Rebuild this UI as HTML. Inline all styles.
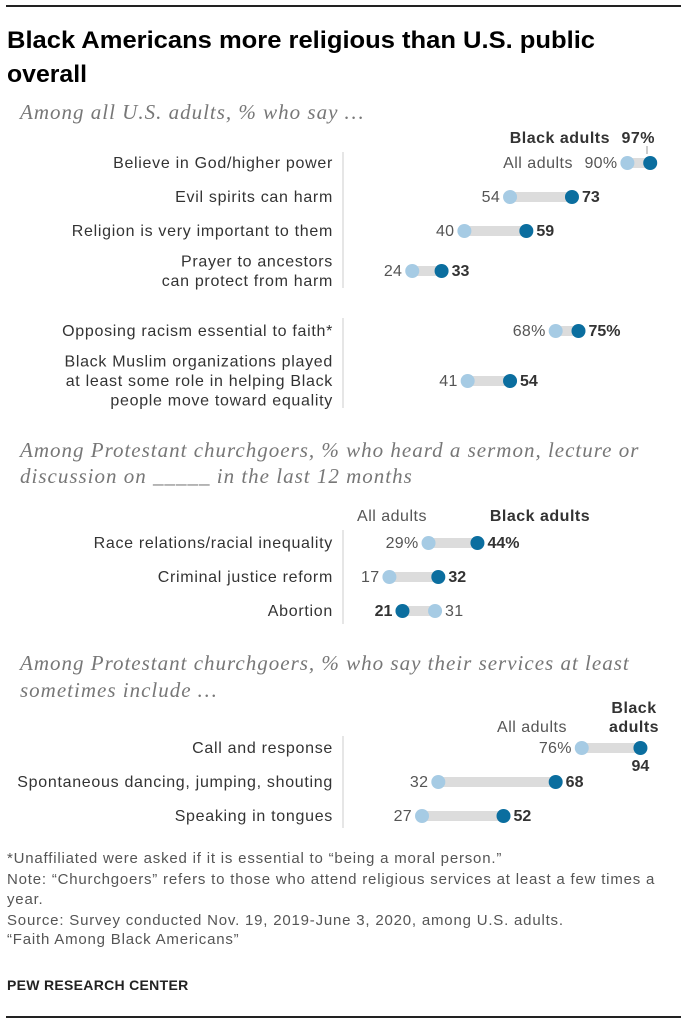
<!DOCTYPE html>
<html><head><meta charset="utf-8"><style>
body{margin:0;background:#fff;width:688px;height:1024px;overflow:hidden}
svg text{font-family:"Liberation Sans",sans-serif}
.sub{font-family:"Liberation Serif",serif;font-style:italic;font-size:21px;fill:#777;letter-spacing:1px}
.foot{font-size:15px;fill:#555;letter-spacing:0.8px}
.lg{font-size:16px;letter-spacing:0.5px}
</style></head><body>
<svg id="c" width="688" height="1024">
<line x1="6" y1="6" x2="681" y2="6" stroke="#222" stroke-width="2"/>
<text x="7" y="48" font-size="24" font-weight="bold" fill="#000" textLength="588" lengthAdjust="spacingAndGlyphs">Black Americans more religious than U.S. public</text>
<text x="7" y="82" font-size="24" font-weight="bold" fill="#000" textLength="80" lengthAdjust="spacingAndGlyphs">overall</text>
<text class="sub" x="20" y="119">Among all U.S. adults, % who say …</text>
<text class="sub" x="20" y="457">Among Protestant churchgoers, % who heard a sermon, lecture or</text>
<text class="sub" x="20" y="483">discussion on _____ in the last 12 months</text>
<text class="sub" x="20" y="670">Among Protestant churchgoers, % who say their services at least</text>
<text class="sub" x="20" y="697">sometimes include …</text>
<g stroke="#ccc" stroke-width="1">
<line x1="343" y1="152" x2="343" y2="288"/>
<line x1="343" y1="318" x2="343" y2="408"/>
<line x1="343" y1="530" x2="343" y2="624"/>
<line x1="343" y1="736" x2="343" y2="828"/>
</g>
<text class="lg" x="610" y="143" font-weight="bold" fill="#333" text-anchor="end">Black adults</text>
<text class="lg" x="655" y="143" font-weight="bold" fill="#333" text-anchor="end">97%</text>
<line x1="647" y1="146" x2="647" y2="154" stroke="#999"/>
<text class="lg" x="573" y="168" fill="#555" text-anchor="end">All adults</text>
<text class="lg" x="392" y="521" fill="#555" text-anchor="middle">All adults</text>
<text class="lg" x="540" y="521" font-weight="bold" fill="#333" text-anchor="middle">Black adults</text>
<text class="lg" x="532" y="732" fill="#555" text-anchor="middle">All adults</text>
<text class="lg" x="634" y="713" font-weight="bold" fill="#333" text-anchor="middle">Black</text>
<text class="lg" x="634" y="732" font-weight="bold" fill="#333" text-anchor="middle">adults</text>
<g id="rows"></g>
<text class="foot" x="7" y="863">*Unaffiliated were asked if it is essential to “being a moral person.”</text>
<text class="foot" x="7" y="884">Note: “Churchgoers” refers to those who attend religious services at least a few times a</text>
<text class="foot" x="7" y="904">year.</text>
<text class="foot" x="7" y="925">Source: Survey conducted Nov. 19, 2019-June 3, 2020, among U.S. adults.</text>
<text class="foot" x="7" y="944">“Faith Among Black Americans”</text>
<text x="7" y="990" font-size="14" font-weight="bold" fill="#222" letter-spacing="0.3">PEW RESEARCH CENTER</text>
<line x1="6" y1="1017" x2="681" y2="1017" stroke="#222" stroke-width="2"/>
</svg>
<script>
const labels = [
 ["Believe in God/higher power"],
 ["Evil spirits can harm"],
 ["Religion is very important to them"],
 ["Prayer to ancestors","can protect from harm"],
 ["Opposing racism essential to faith*"],
 ["Black Muslim organizations played","at least some role in helping Black","people move toward equality"],
 ["Race relations/racial inequality"],
 ["Criminal justice reform"],
 ["Abortion"],
 ["Call and response"],
 ["Spontaneous dancing, jumping, shouting"],
 ["Speaking in tongues"]
];
const allAdults = [90,54,40,24,68,41,29,17,31,76,32,27];
const blackAdults = [97,73,59,33,75,54,44,32,21,94,68,52];
const showPctAll = [true,false,false,false,true,false,true,false,false,true,false,false];
const showPctBlack = [true,false,false,false,true,false,true,false,false,false,false,false];
const rowY = [163,197,231,271,331,381,543,577,611,748,782,816];
const x = v => 334 + 3.26*v;
const NS = "http://www.w3.org/2000/svg";
const g = document.getElementById("rows");
function mk(tag, attrs, txt){const e=document.createElementNS(NS,tag);for(const k in attrs)e.setAttribute(k,attrs[k]);if(txt!==undefined)e.textContent=txt;g.appendChild(e);return e;}
labels.forEach((lab,i)=>{
  const y=rowY[i], a=allAdults[i], b=blackAdults[i];
  lab.forEach((ln,j)=>{
    const t=mk("text",{x:333,y:y+5+(j-(lab.length-1)/2)*19.5,"font-size":16,"letter-spacing":0.7,fill:"#333","text-anchor":"end"},ln);
    
    
  });
  const bar=mk("line",{x1:x(Math.min(a,b)),x2:x(Math.max(a,b)),y1:y,y2:y,stroke:"#dcdcdc","stroke-width":10});
  
  
  const c1=mk("circle",{cx:x(a),cy:y,r:7,fill:"#a6cbe4"});
  
  
  const c2=mk("circle",{cx:x(b),cy:y,r:7,fill:"#0b6e9f"});
  
  
  const pa=showPctAll[i]?"%":"", pb=showPctBlack[i]?"%":"";
  const bLeft=b<a;
  const ta=mk("text",{x:bLeft?x(a)+10:x(a)-10,y:y+5,"font-size":16,"letter-spacing":0.3,fill:"#555","text-anchor":bLeft?"start":"end"},a+pa);
  
  
  if(i===0) return;
  let tb;
  if(i===9){
    tb=mk("text",{x:x(b),y:y+23,"font-size":16,"font-weight":"bold",fill:"#333","text-anchor":"middle"},b+pb);
  } else {
    tb=mk("text",{x:bLeft?x(b)-10:x(b)+10,y:y+5,"font-size":16,"font-weight":"bold",fill:"#333","text-anchor":bLeft?"end":"start"},b+pb);
  }
  
  
});
</script>
</body></html>
